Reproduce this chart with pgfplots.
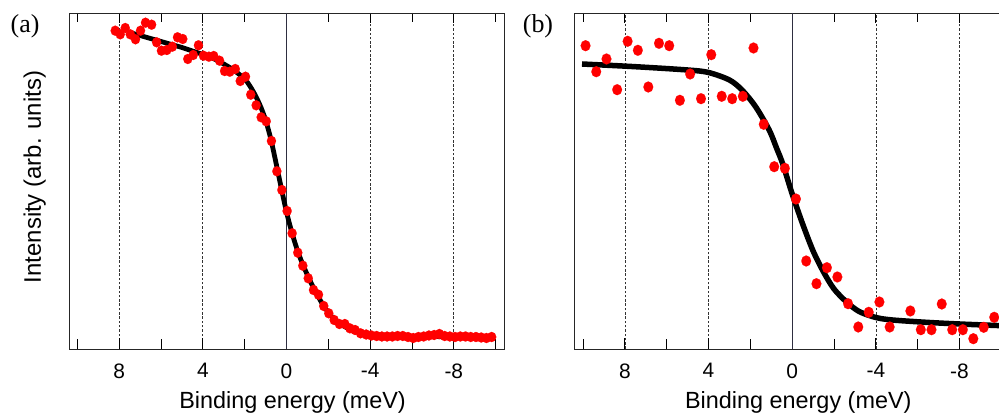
\documentclass[border=0pt]{standalone}
\usepackage{pgfplots}
\pgfplotsset{compat=1.18}
\usepackage{fontspec}
\setmainfont{Liberation Sans}
\newfontfamily\seriffont{Liberation Serif}
\definecolor{zeroline}{rgb}{0.18,0.18,0.25}

\pgfplotsset{
  fermi/.style={
    scale only axis,
    width=435bp, height=336bp,
    xmin=-10.4, xmax=10.4, x dir=reverse,
    ymin=0, ymax=336,
    ytick=\empty,
    xtick={-8,-4,0,4,8},
    xticklabels={-8,-4,0,4,8},
    minor xtick={-10,-6,-2,2,6,10},
    tick align=inside,
    xtick pos=both,
    major tick length=10.5bp,
    minor tick length=9.5bp,
    tick style={black, line width=0.9bp},
    axis line style={black!85, line width=0.9bp},
    xmajorgrids,
    major grid style={black!80, line width=0.7bp, dash pattern=on 2.5bp off 1.8bp},
    /pgf/number format/assume math mode=true,
    xticklabel style={font=\fontsize{21}{25}\selectfont, yshift=-11bp},
    xlabel={Binding energy (meV)},
    xlabel style={font=\fontsize{23.5}{28}\selectfont, at={(axis description cs:0.514,0)}, anchor=base, yshift=-59bp},
    clip=false,
  }
}

\begin{document}
\begin{tikzpicture}
% ---------- panel (a)
\begin{axis}[fermi, at={(69bp,67bp)}, anchor=south west,
  ylabel={Intensity (arb. units)},
  ylabel style={font=\fontsize{24}{28}\selectfont, at={(axis description cs:0,0.5)}, anchor=base, xshift=4bp, yshift=28bp},
]
\addplot[zeroline, line width=1.2bp] coordinates {(0,0) (0,336)};
\addplot[black, line width=4.8bp, smooth, tension=0.5] coordinates {
(7.5,316.5) (7.0,313.5) (6.5,310.5) (6.0,307.5) (5.5,304.5) (5.0,301.5) (4.5,298) (4.0,294.5) (3.5,290.5) (3.0,285) (2.5,278.5) (2.0,270) (1.75,263) (1.5,254) (1.25,243) (1.0,229) (0.75,210) (0.5,186) (0.25,161) (0.0,137) (-0.25,117) (-0.5,100) (-0.75,86) (-1.0,74) (-1.25,63) (-1.5,53) (-1.75,44) (-2.0,36.5) (-2.25,30.5) (-2.5,26) (-3.0,20) (-3.5,16.5) (-4.0,14.5) (-5.0,13) (-6.0,12.5) (-7.0,12.5) (-8.0,12) (-9.0,12) (-9.8,12)
};
\addplot[only marks, mark=*, mark size=4.6bp, mark options={fill=red, draw=red, line width=0.1bp, yscale=1.1}] coordinates {
(8.19,318.3) (7.95,314.7) (7.71,321) (7.47,314.7) (7.22,309.7) (6.98,318.3) (6.74,326.3) (6.45,324.3) (6.21,306.7) (5.98,298.3)
(5.72,299) (5.46,302.3) (5.21,311.7) (4.96,310) (4.72,290) (4.46,294) (4.21,303.7) (3.97,293.3) (3.71,292.3) (3.48,293)
(3.20,288.3) (2.96,278) (2.71,277.3) (2.45,280) (2.21,268) (1.96,272.3) (1.71,254.3) (1.45,243.7) (1.21,231.7) (0.97,227.7)
(0.72,208) (0.46,177.7) (0.22,159) (-0.03,138) (-0.27,115.7) (-0.54,96.3) (-0.78,83.3) (-1.04,70.7) (-1.29,59) (-1.53,54.3)
(-1.78,43) (-2.02,35.7) (-2.28,29) (-2.53,25) (-2.79,25) (-3.03,20.7) (-3.28,19) (-3.54,15.7)
(-3.81,14.5) (-4.06,13.5) (-4.31,13) (-4.56,12.5) (-4.81,12.5) (-5.06,12.5) (-5.31,13) (-5.56,13) (-5.81,12) (-6.06,11)
(-6.31,12) (-6.56,12.5) (-6.81,13.5) (-7.06,14) (-7.31,15) (-7.56,13) (-7.81,12.5) (-8.06,12) (-8.31,12.5) (-8.56,12.5)
(-8.81,12) (-9.06,12) (-9.31,11.5) (-9.56,11) (-9.81,12)
};
\end{axis}
% ---------- panel (b)
\begin{axis}[fermi, at={(574.7bp,67bp)}, anchor=south west]
\addplot[zeroline, line width=1.2bp] coordinates {(0,0) (0,336)};
\addplot[only marks, mark=*, mark size=4.9bp, mark options={fill=red, draw=red, line width=0.1bp, yscale=1.12}] coordinates {
(9.88,303.3) (9.37,277.3) (8.88,290) (8.37,259.3) (7.87,307.7) (7.38,298.7) (6.88,262) (6.37,305.7) (5.88,303.3) (5.37,248.7)
(4.88,275) (4.36,250.3) (3.87,294.3) (3.37,252.7) (2.87,250.3) (2.36,252.7) (1.85,301) (1.36,224.7) (0.86,182.3) (0.35,180.7)
(-0.18,150) (-0.67,88) (-1.16,65.3) (-1.66,81.3) (-2.16,72) (-2.67,45.3) (-3.16,22) (-3.66,36.7) (-4.17,47) (-4.66,22)
(-5.65,38) (-6.15,19.3) (-6.66,19.3) (-7.15,45) (-7.65,19.3) (-8.16,19.3) (-8.66,10.3) (-9.16,21.7) (-9.66,31.7)
};
\addplot[black, line width=5.5bp, smooth, tension=0.5] coordinates {
(10.05,285) (7.5,282.3) (5.0,279) (4.0,276.5) (3.0,269) (2.4,259) (1.75,242.3) (1.1,219) (0.75,201) (0.45,185) (0.0,155) (-0.5,125) (-1.0,98) (-1.5,77) (-2.0,60) (-2.6,47) (-3.2,37.5) (-4.0,31.5) (-4.8,29) (-6.4,26.7) (-8.0,25) (-10.4,23)
};
\end{axis}
\node[font=\seriffont\fontsize{26}{30}\selectfont] at (25bp,390bp) {(a)};
\node[font=\seriffont\fontsize{26}{30}\selectfont] at (538bp,390bp) {(b)};
\pgfresetboundingbox
\useasboundingbox (0,0) rectangle (999bp,416bp);
\end{tikzpicture}
\end{document}
